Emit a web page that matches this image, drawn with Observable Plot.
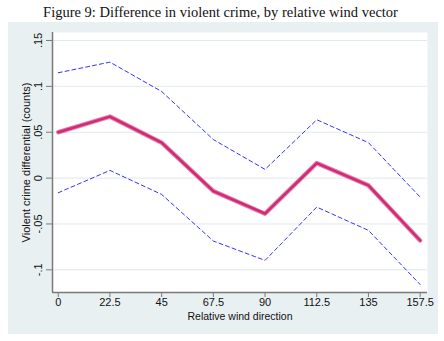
<!DOCTYPE html>
<html>
<head>
<meta charset="utf-8">
<script src="https://cdn.jsdelivr.net/npm/d3@7"></script>
<script src="https://cdn.jsdelivr.net/npm/@observablehq/plot@0.6"></script>
<style>
  html, body { margin: 0; padding: 0; background: #ffffff; }
  #title { height: 22px; width: 441px; text-align: center; font-family: "Liberation Serif", serif; font-size: 14.5px; line-height: 24px; color: #111; box-sizing: border-box; white-space: nowrap; overflow: hidden; }
  #chart { margin-left: 8px; }
  #chart svg { background: #e9f0f2; display: block; }
</style>
</head>
<body>
<div id="title">Figure 9: Difference in violent crime, by relative wind vector</div>
<div id="chart"></div>
<script>
const directions = [0, 22.5, 45, 67.5, 90, 112.5, 135, 157.5];
const estimate = [0.050, 0.067, 0.0386, -0.0142, -0.0388, 0.0163, -0.008, -0.068];
const upperCI = [0.1148, 0.1264, 0.0944, 0.042, 0.0095, 0.0636, 0.0386, -0.0207];
const lowerCI = [-0.016, 0.0084, -0.0178, -0.0686, -0.0897, -0.0316, -0.057, -0.116];
const xTickLabels = ["0", "22.5", "45", "67.5", "90", "112.5", "135", "157.5"];
const yTicks = [-0.1, -0.05, 0, 0.05, 0.1, 0.15];
const yTickLabels = ["-.1", "-.05", "0", ".05", ".1", ".15"];
const xTitle = "Relative wind direction";
const yTitle = "Violent crime differential (counts)";

const rows = directions.map((d, i) => ({dir: d, est: estimate[i], hi: upperCI[i], lo: lowerCI[i]}));
const xDomain = [-2.5, 160.7];
const yDomain = [-0.1247, 0.1587];
const axisColor = "#7a7a7a";

const plot = Plot.plot({
  width: 430,
  height: 312,
  marginLeft: 44,
  marginRight: 11,
  marginTop: 10,
  marginBottom: 42,
  style: {fontFamily: "Liberation Sans, Arial, sans-serif", fontSize: "11px", color: "#111", background: "#e9f0f2"},
  x: {domain: xDomain, label: null},
  y: {domain: yDomain, label: null},
  marks: [
    Plot.frame({fill: "#ffffff", stroke: null}),
    Plot.gridY(yTicks, {stroke: "#e0e9ec", strokeOpacity: 1, strokeWidth: 1}),
    Plot.line(rows, {x: "dir", y: "hi", stroke: "#3333ff", strokeWidth: 1, strokeDasharray: "4,3"}),
    Plot.line(rows, {x: "dir", y: "lo", stroke: "#3333ff", strokeWidth: 1, strokeDasharray: "4,3"}),
    Plot.line(rows, {x: "dir", y: "est", stroke: "#e0609a", strokeWidth: 4.5, strokeOpacity: 0.8}),
    Plot.line(rows, {x: "dir", y: "est", stroke: "#cf2a74", strokeWidth: 2.5}),
    Plot.ruleX([xDomain[0]], {stroke: axisColor, strokeWidth: 1.5}),
    Plot.ruleY([yDomain[0]], {stroke: axisColor, strokeWidth: 1.5}),
    Plot.axisY({ticks: yTicks, tickSize: 6, tickFormat: () => "", stroke: axisColor, label: null}),
    Plot.text(yTicks, {y: d => d, text: (d, i) => yTickLabels[i], frameAnchor: "left", dx: -14, rotate: -90, textAnchor: "middle", lineAnchor: "middle", fill: "#111"}),
    Plot.text([yTitle], {frameAnchor: "left", dx: -26, rotate: -90, textAnchor: "middle", lineAnchor: "middle", fontSize: 11, fill: "#111"}),
    Plot.axisX({ticks: directions, tickSize: 5, tickPadding: 1, tickFormat: (d, i) => xTickLabels[i], stroke: axisColor, label: null}),
    Plot.text([xTitle], {frameAnchor: "bottom", dy: 24, textAnchor: "middle", lineAnchor: "middle", fontSize: 10.5, fill: "#111"})
  ]
});
document.getElementById("chart").appendChild(plot);
</script>
</body>
</html>
